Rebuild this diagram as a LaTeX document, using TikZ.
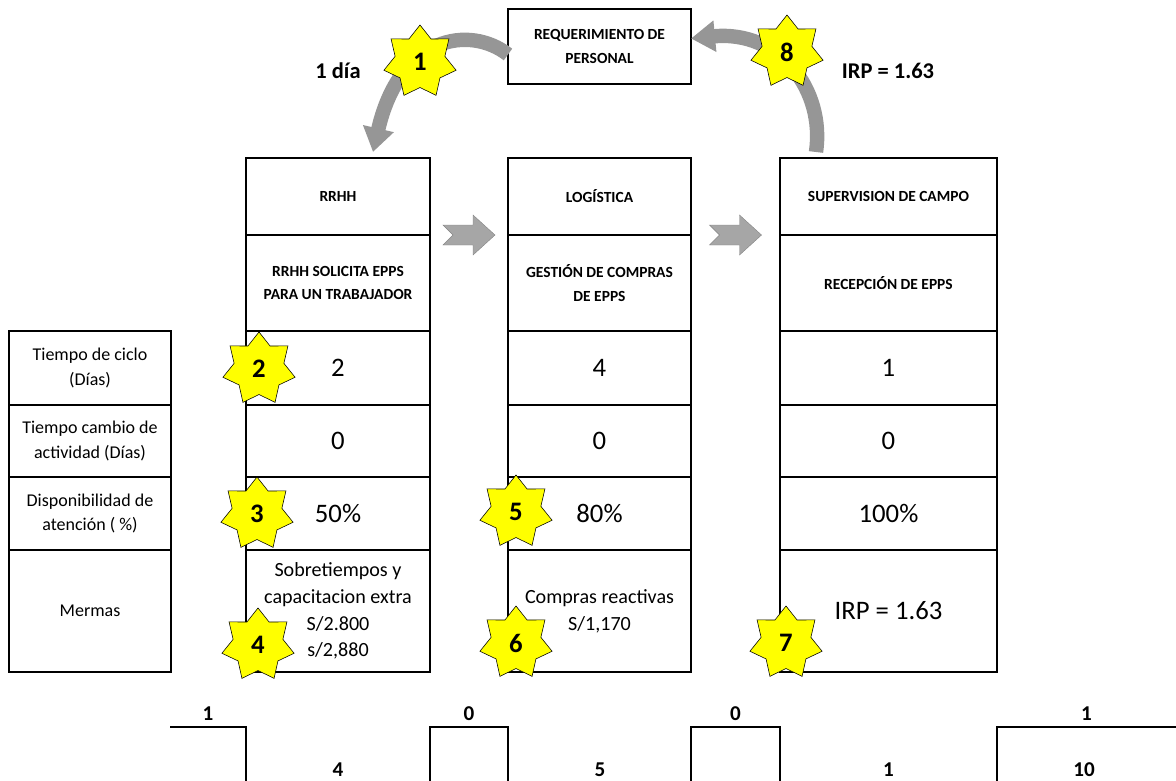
\documentclass[tikz,border=0pt]{standalone}
\usepackage{fontspec}
\setmainfont{Carlito}
\usetikzlibrary{shapes.geometric,arrows.meta,calc}

\definecolor{amarillo}{RGB}{255,255,0}
\definecolor{grisflecha}{RGB}{150,150,150}
\definecolor{grisbloque}{RGB}{166,166,166}

\begin{document}
\begin{tikzpicture}[x=0.025cm, y=-0.025cm,
    celda/.style={draw, line width=0.9pt, inner sep=0pt, outer sep=0pt, align=center},
    wLab/.style={minimum width=4.05cm},
    wRR/.style={minimum width=4.6cm},
    wLG/.style={minimum width=4.575cm},
    wSV/.style={minimum width=5.425cm},
    hCab/.style={minimum height=1.925cm},
    hTit/.style={minimum height=2.4cm},
    hCic/.style={minimum height=1.85cm},
    hCam/.style={minimum height=1.8cm},
    hDis/.style={minimum height=1.825cm},
    hMer/.style={minimum height=3.05cm},
    titulo/.style={font=\fontsize{11}{17}\selectfont\bfseries},
    etiqueta/.style={font=\fontsize{12.8}{17.5}\selectfont},
    valor/.style={font=\fontsize{19}{23}\selectfont},
    merma/.style={font=\fontsize{14.3}{19}\selectfont},
    nota/.style={font=\fontsize{16}{19}\selectfont\bfseries},
    cifra/.style={font=\fontsize{15}{18}\selectfont\bfseries},
    estrella/.style={star, star points=7, star point ratio=1.45, minimum size=1.85cm,
        inner sep=0pt, fill=amarillo, draw=black, line width=0.4pt,
        font=\fontsize{19}{23}\selectfont\bfseries},
    marco/.style={draw, line width=1.5pt},
    bloque/.style={fill=grisbloque, draw=grisbloque!80!black, line width=0.3pt},
    curva/.style={draw=grisflecha, line width=0.36cm, -{Triangle[width=0.75cm,length=0.6cm]}},
    linea/.style={draw, line width=0.8pt}]

    \useasboundingbox (0,0) rectangle (1176,781);

    % requerimiento
    \node[celda, titulo, line width=1.5pt, minimum width=4.575cm, minimum height=1.875cm]
        (req) at (599.5,46.5) {REQUERIMIENTO DE\\PERSONAL};

    % etiquetas
    \node[celda, etiqueta, wLab, hCic](labCic) at (90,368)   {Tiempo de ciclo\\(Días)};
    \node[celda, etiqueta, wLab, hCam](labCam) at (90,441)   {Tiempo cambio de\\actividad (Días)};
    \node[celda, etiqueta, wLab, hDis](labDis) at (90,513.5) {Disponibilidad de\\atención ( \%)};
    \node[celda, etiqueta, wLab, hMer](labMer) at (90,611)   {Mermas};

    % RRHH
    \node[celda, titulo, wRR, hCab](rrhhHead) at (338,196.5) {RRHH};
    \node[celda, titulo, wRR, hTit](rrhhTit)  at (338,283)   {RRHH SOLICITA EPPS\\PARA UN TRABAJADOR};
    \node[celda, valor,  wRR, hCic](rrhhCic)  at (338,368)   {2};
    \node[celda, valor,  wRR, hCam](rrhhCam)  at (338,441)   {0};
    \node[celda, valor,  wRR, hDis](rrhhDis)  at (338,513.5) {50\%};
    \node[celda, merma,  wRR, hMer](rrhhMer)  at (338,611)   {Sobretiempos y\\capacitacion extra\\S/2.800\\s/2,880};

    % logistica
    \node[celda, titulo, wLG, hCab](logHead) at (599.5,196.5) {LOGÍSTICA};
    \node[celda, titulo, wLG, hTit](logTit)  at (599.5,283)   {GESTIÓN DE COMPRAS\\DE EPPS};
    \node[celda, valor,  wLG, hCic](logCic)  at (599.5,368)   {4};
    \node[celda, valor,  wLG, hCam](logCam)  at (599.5,441)   {0};
    \node[celda, valor,  wLG, hDis](logDis)  at (599.5,513.5) {80\%};
    \node[celda, merma,  wLG, hMer](logMer)  at (599.5,611)   {Compras reactivas\\S/1,170};

    % supervision
    \node[celda, titulo, wSV, hCab](supHead) at (888.5,196.5) {SUPERVISION DE CAMPO};
    \node[celda, titulo, wSV, hTit](supTit)  at (888.5,283)   {RECEPCIÓN DE EPPS};
    \node[celda, valor,  wSV, hCic](supCic)  at (888.5,368)   {1};
    \node[celda, valor,  wSV, hCam](supCam)  at (888.5,441)   {0};
    \node[celda, valor,  wSV, hDis](supDis)  at (888.5,513.5) {100\%};
    \node[celda, valor,  wSV, hMer](supMer)  at (888.5,611)   {IRP = 1.63};

    \draw[marco] (labCic.north west) rectangle (labMer.south east);
    \draw[marco] (rrhhHead.north west) rectangle (rrhhMer.south east);
    \draw[marco] (logHead.north west) rectangle (logMer.south east);
    \draw[marco] (supHead.north west) rectangle (supMer.south east);

    % flechas entre areas
    \foreach \a/\b in {rrhhHead/logHead, logHead/supHead}
        \filldraw[bloque, shift={($(\a.south east)!0.5!(\b.south west)$)}]
            (-26,-10) -- (4,-10) -- (4,-20) -- (26,0) -- (4,20) -- (4,10) -- (-26,10) -- (-16,0) -- cycle;

    % flechas curvas
    \coordinate (a1e) at (373,152);
    \coordinate (a8s) at (816,152);
    \draw[curva] (req.185) .. controls (470,25) and (400,35) .. (a1e);
    \draw[curva] (a8s) .. controls (825,90) and (780,30) .. (req.5);

    \node[nota](dia) at (338,71) {1 día};
    \node[nota](irp) at (888,71) {IRP = 1.63};

    % estrellas
    \node[estrella](e1) at (420,62)  {1};
    \node[estrella](e2) at (259,369) {2};
    \node[estrella](e3) at (257,514) {3};
    \node[estrella](e4) at (258,645) {4};
    \node[estrella](e5) at (516,512) {5};
    \node[estrella](e6) at (516,643) {6};
    \node[estrella](e7) at (786,643) {7};
    \node[estrella](e8) at (787,52)  {8};

    % linea de tiempo
    \draw[linea] (170,727) -- (246,727) -- (246,781);
    \draw[linea] (430,781) -- (430,727) -- (508,727) -- (508,781);
    \draw[linea] (691,781) -- (691,727) -- (780,727) -- (780,781);
    \draw[linea] (997,781) -- (997,727) -- (1176,727);

    \node[cifra](t1) at (208,714)    {1};
    \node[cifra](t2) at (469,714)    {0};
    \node[cifra](t3) at (735.5,714)  {0};
    \node[cifra](t4) at (1086.5,714) {1};
    \node[cifra](b1) at (338,770)    {4};
    \node[cifra](b2) at (600,770)    {5};
    \node[cifra](b3) at (888.5,770)  {1};
    \node[cifra](b4) at (1084,770)   {10};
\end{tikzpicture}
\end{document}
